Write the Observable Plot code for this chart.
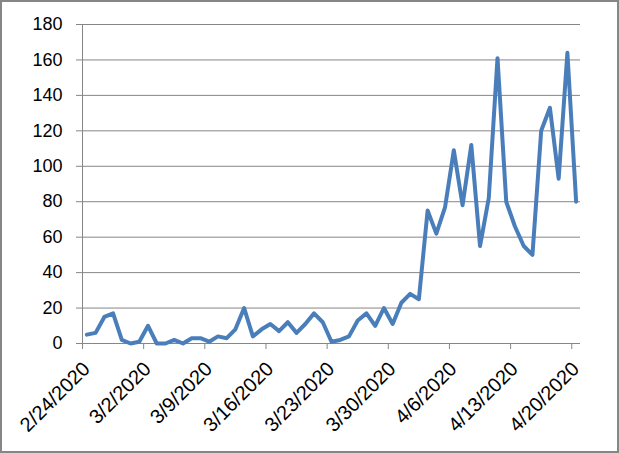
<!DOCTYPE html>
<html><head><meta charset="utf-8">
<script src="https://cdn.jsdelivr.net/npm/d3@7"></script>
<script src="https://cdn.jsdelivr.net/npm/@observablehq/plot@0.6"></script>
<style>
body{margin:0;background:#fff;}
#wrap{position:relative;width:619px;height:453px;overflow:hidden;}
#border{position:absolute;left:0;top:0;width:619px;height:453px;box-sizing:border-box;border:2px solid #868686;pointer-events:none;}
</style></head><body>
<div id="wrap"><div id="border"></div></div>
<script>
const dates = ["2/24/2020","2/25/2020","2/26/2020","2/27/2020","2/28/2020","2/29/2020",
"3/1/2020","3/2/2020","3/3/2020","3/4/2020","3/5/2020","3/6/2020","3/7/2020","3/8/2020","3/9/2020","3/10/2020",
"3/11/2020","3/12/2020","3/13/2020","3/14/2020","3/15/2020","3/16/2020","3/17/2020","3/18/2020","3/19/2020","3/20/2020",
"3/21/2020","3/22/2020","3/23/2020","3/24/2020","3/25/2020","3/26/2020","3/27/2020","3/28/2020","3/29/2020","3/30/2020","3/31/2020",
"4/1/2020","4/2/2020","4/3/2020","4/4/2020","4/5/2020","4/6/2020","4/7/2020","4/8/2020","4/9/2020","4/10/2020",
"4/11/2020","4/12/2020","4/13/2020","4/14/2020","4/15/2020","4/16/2020","4/17/2020","4/18/2020","4/19/2020","4/20/2020"];
const values = [5,6,15,17,2,0,1,10,0,0,
2,0,3,3,1,4,3,8,20,4,
8,11,7,12,6,11,17,12,1,2,
4,13,17,10,20,11,23,28,25,75,
62,77,109,78,112,55,82,161,80,66,
55,50,120,133,93,164,80];
const tickLabels = ["2/24/2020","3/2/2020","3/9/2020","3/16/2020","3/23/2020","3/30/2020","4/6/2020","4/13/2020","4/20/2020"];
const yTicks = [0,20,40,60,80,100,120,140,160,180];

const parse = s => { const [m,d,y] = s.split("/").map(Number); return new Date(Date.UTC(y, m - 1, d)); };
const DAY = 24 * 3600e3;
const data = dates.map((s, i) => ({date: new Date(parse(s).getTime() + DAY / 2), value: values[i]}));
const ticks = tickLabels.map(parse);
const labelOf = new Map(ticks.map((t, i) => [t.getTime(), tickLabels[i]]));
const start = parse(dates[0]);
const end = new Date(parse(dates[dates.length - 1]).getTime() + DAY);

const chart = Plot.plot({
  width: 619, height: 453,
  marginLeft: 82, marginRight: 39, marginTop: 24, marginBottom: 110,
  style: {fontFamily: "'Liberation Sans', Arial, sans-serif", fontSize: "18px", color: "#000", background: "transparent"},
  x: {type: "utc", domain: [start, end]},
  y: {domain: [0, 180]},
  marks: [
    Plot.ruleY(yTicks.filter(d => d > 0), {stroke: "#868686", strokeWidth: 1}),
    Plot.axisY({ticks: yTicks, tickSize: 6, tickPadding: 14, stroke: "#868686", label: null, fontSize: 18}),
    Plot.axisX({ticks, tickSize: 6, text: null, label: null, stroke: "#868686"}),
    Plot.axisX({ticks, tickFormat: d => labelOf.get(d.getTime()), tickRotate: -45, tickSize: 0, tickPadding: 22, dx: 4, label: null, fontSize: 20}),
    Plot.ruleX([start], {stroke: "#868686"}),
    Plot.ruleY([0], {stroke: "#868686"}),
    Plot.line(data, {x: "date", y: "value", stroke: "#4a7ebb", strokeWidth: 4, strokeLinejoin: "round", strokeLinecap: "round"})
  ]
});
document.getElementById("wrap").prepend(chart);
</script>
</body></html>
